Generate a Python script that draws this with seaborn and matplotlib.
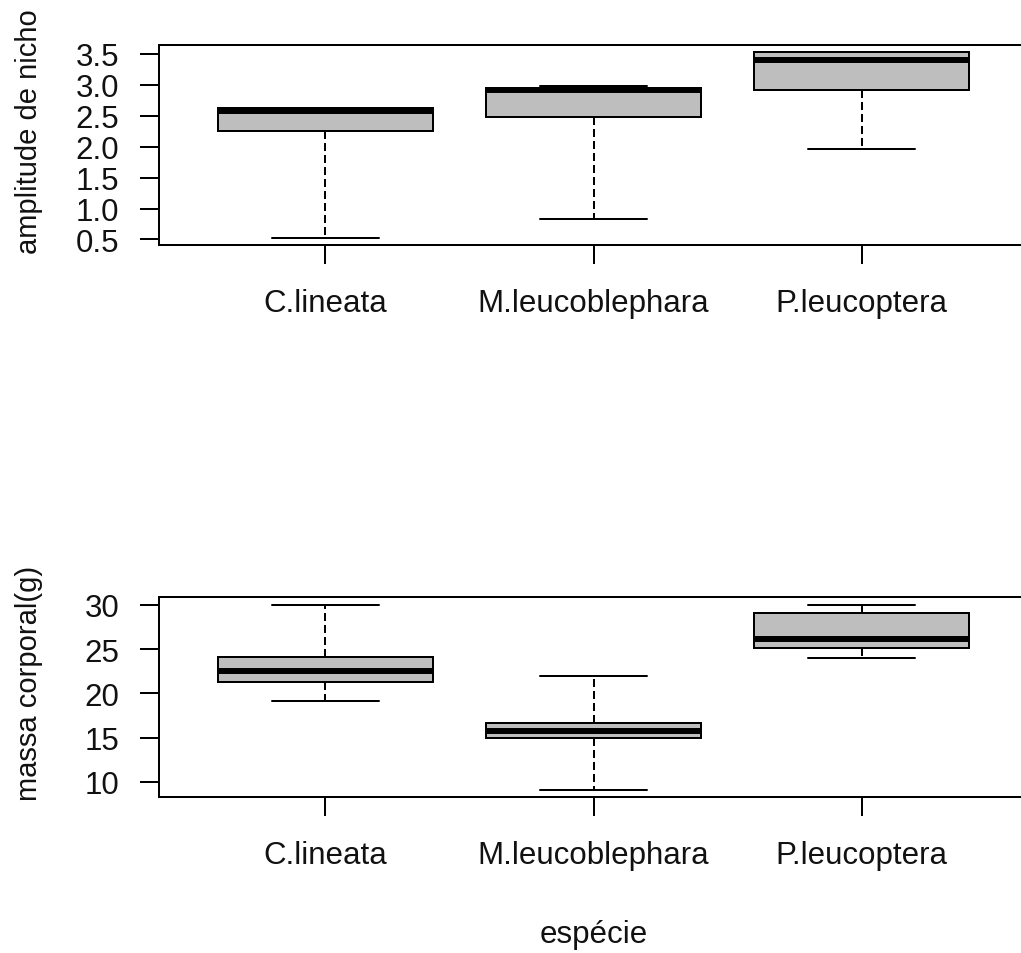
import numpy as np
import pandas as pd
import matplotlib
matplotlib.use("Agg")
import matplotlib.pyplot as plt
import seaborn as sns

# Species (x categories)
especies = ["C.lineata", "M.leucoblephara", "P.leucoptera"]

# Five-number summaries (min, Q1, median, Q3, max) per species
amplitude_clineata = [0.53, 2.26, 2.58, 2.63, 2.63]
amplitude_mleuco = [0.83, 2.48, 2.91, 2.945, 2.98]
amplitude_pleuco = [1.97, 2.91, 3.41, 3.53, 3.53]

massa_clineata = [19.1, 21.3, 22.5, 24.1, 30.0]
massa_mleuco = [9.1, 14.95, 15.7, 16.6, 22.0]
massa_pleuco = [24.0, 25.1, 26.1, 29.1, 30.0]

# Axis tick labels
amplitude_ticks = [0.5, 1.0, 1.5, 2.0, 2.5, 3.0, 3.5]
massa_ticks = [10, 15, 20, 25, 30]

amplitude = [amplitude_clineata, amplitude_mleuco, amplitude_pleuco]
massa = [massa_clineata, massa_mleuco, massa_pleuco]

df_amp = pd.DataFrame(
    [(sp, v) for sp, vals in zip(especies, amplitude) for v in vals],
    columns=["especie", "valor"],
)
df_mas = pd.DataFrame(
    [(sp, v) for sp, vals in zip(especies, massa) for v in vals],
    columns=["especie", "valor"],
)

sns.set_style("white")
plt.rcParams["font.family"] = ["Liberation Sans", "DejaVu Sans"]

W, H = 1021, 954
fig = plt.figure(figsize=(W / 100, H / 100), dpi=100)

LW = 1.44
FS = 22.5
TXT = "#111111"


def panel(rect, df, ticks, ylabel):
    ax = fig.add_axes(rect)
    sns.boxplot(
        data=df, x="especie", y="valor", order=especies, ax=ax,
        color="#bebebe", linecolor="black", linewidth=LW, width=0.8,
        whis=(0, 100), saturation=1,
        medianprops=dict(linewidth=4.3, color="black", solid_capstyle="butt"),
        whiskerprops=dict(linestyle=(0, (4, 2)), color="black"),
        capprops=dict(color="black"),
    )
    # R-style 4% padding around the data range
    lo, hi = df["valor"].min(), df["valor"].max()
    pad = 0.04 * (hi - lo)
    ax.set_ylim(lo - pad, hi + pad)
    ax.set_xlim(-0.62, 2.62)
    ax.set_yticks(ticks)
    ax.set_yticklabels([f"{t:g}" if isinstance(t, int) else f"{t:.1f}" for t in ticks])
    for s in ax.spines.values():
        s.set_visible(True)
        s.set_color("black")
        s.set_linewidth(LW)
    ax.tick_params(axis="both", direction="out", length=13.7, width=LW,
                   color="black", labelsize=FS, labelcolor=TXT)
    ax.tick_params(axis="y", pad=15, left=True)
    ax.tick_params(axis="x", pad=17, bottom=True)
    ax.set_ylabel(ylabel, fontsize=21, color=TXT)
    ax.yaxis.set_label_coords(-0.1335, 0.572)
    ax.set_xlabel("")
    return ax


axw = (1028 - 159) / W
ax1 = panel([159 / W, 1 - 246 / H, axw, 200.3 / H], df_amp, amplitude_ticks,
            "amplitude de nicho")
ax2 = panel([159 / W, 1 - 798.3 / H, axw, 200 / H], df_mas, massa_ticks,
            "massa corporal(g)")
ax2.set_xlabel("espécie", fontsize=FS, color=TXT, labelpad=35)

fig.savefig("out.png", dpi=100, facecolor="white")
